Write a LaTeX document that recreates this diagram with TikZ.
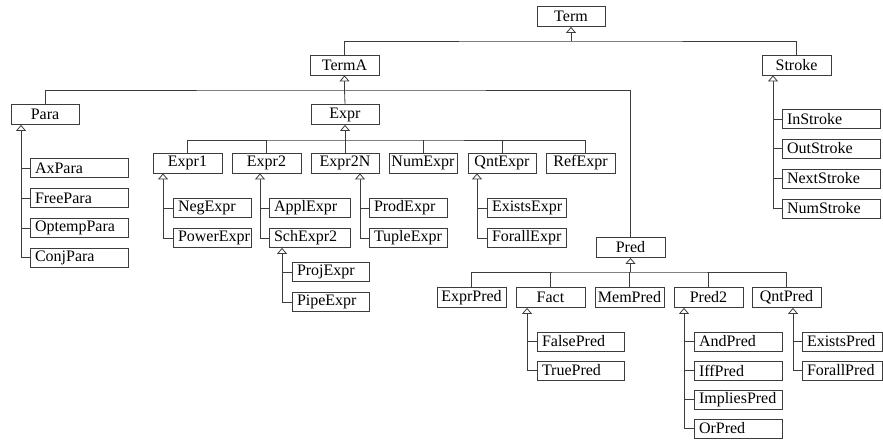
\documentclass[tikz,border=0pt]{standalone}
\usepackage{fontspec}
\setmainfont{Liberation Serif}
\usetikzlibrary{arrows.meta}
\definecolor{linec}{RGB}{60,60,60}
\begin{document}
\begin{tikzpicture}[x=1pt,y=-1pt,
  conn/.style={draw=linec, line width=0.8pt},
  inh/.style={conn, {Triangle[width=10pt,length=6pt,fill=white,line width=0.8pt]}-},
  pbox/.style={draw=linec, line width=0.8pt, fill=white, minimum height=20pt,
    inner sep=0pt, minimum width=#1, font=\fontsize{16}{19}\selectfont},
  cbox/.style={draw=linec, line width=0.8pt, fill=white, minimum height=19pt,
    inner ysep=0pt, inner xsep=5pt, text width=#1, align=left,
    font=\fontsize{16}{19}\selectfont}]
\useasboundingbox (0,0) rectangle (883,439);

% top levels
\node[pbox=68pt] (Term) at (571,16.5) {Term};
\node[pbox=69pt] (TermA) at (344.5,65) {TermA};
\node[pbox=69pt] (Stroke) at (796.5,65) {Stroke};
\node[pbox=68pt] (Para) at (45,114.5) {Para};
\node[pbox=68pt] (Expr) at (345,114.5) {Expr};
\node[pbox=69pt] (Expr1) at (187.5,163) {Expr1};
\node[pbox=69pt] (Expr2) at (266.5,163) {Expr2};
\node[pbox=68pt] (Expr2N) at (345,163) {Expr2N};
\node[pbox=68pt] (NumExpr) at (423,163) {NumExpr};
\node[pbox=68pt] (QntExpr) at (502,163) {QntExpr};
\node[pbox=69pt] (RefExpr) at (580.5,163) {RefExpr};
\node[pbox=69pt] (Pred) at (630.5,247.5) {Pred};
\node[pbox=69pt] (ExprPred) at (471.5,297.5) {ExprPred};
\node[pbox=69pt] (Fact) at (550.5,297.5) {Fact};
\node[pbox=69pt] (MemPred) at (629.5,297.5) {MemPred};
\node[pbox=69pt] (Pred2) at (708.5,297.5) {Pred2};
\node[pbox=69pt] (QntPred) at (786.5,297.5) {QntPred};

% children
\node[cbox=88pt] (AxPara) at (79,168) {AxPara};
\node[cbox=88pt] (FreePara) at (79,198) {FreePara};
\node[cbox=88pt] (OptempPara) at (79,228) {OptempPara};
\node[cbox=88pt] (ConjPara) at (79,257.5) {ConjPara};

\node[cbox=88pt] (InStroke) at (831,119) {InStroke};
\node[cbox=88pt] (OutStroke) at (831,148.5) {OutStroke};
\node[cbox=88pt] (NextStroke) at (831,178.5) {NextStroke};
\node[cbox=88pt] (NumStroke) at (831,208.5) {NumStroke};

\node[cbox=68pt] (NegExpr) at (212,208) {NegExpr};
\node[cbox=68pt] (PowerExpr) at (212,238) {PowerExpr};

\node[cbox=71pt] (ApplExpr) at (309.5,208) {ApplExpr};
\node[cbox=71pt] (SchExpr2) at (309.5,238) {SchExpr2};

\node[cbox=67pt] (ProjExpr) at (330.5,272) {ProjExpr};
\node[cbox=67pt] (PipeExpr) at (330.5,302) {PipeExpr};

\node[cbox=68pt] (ProdExpr) at (408,208) {ProdExpr};
\node[cbox=68pt] (TupleExpr) at (408,238) {TupleExpr};

\node[cbox=69pt] (ExistsExpr) at (526.5,208) {ExistsExpr};
\node[cbox=69pt] (ForallExpr) at (526.5,238) {ForallExpr};

\node[cbox=77pt] (FalsePred) at (580.5,341.5) {FalsePred};
\node[cbox=77pt] (TruePred) at (580.5,370.5) {TruePred};

\node[cbox=78pt] (AndPred) at (738,341.5) {AndPred};
\node[cbox=78pt] (IffPred) at (738,370.5) {IffPred};
\node[cbox=78pt] (ImpliesPred) at (738,399.5) {ImpliesPred};
\node[cbox=78pt] (OrPred) at (738,428.5) {OrPred};

\node[cbox=70pt] (ExistsPred) at (842,341.5) {ExistsPred};
\node[cbox=70pt] (ForallPred) at (842,370.5) {ForallPred};

% buses
\coordinate (b1) at (571,41);
\draw[conn] (TermA.north) |- (b1) -| (Stroke.north);
\draw[inh] (Term.south) -- (b1);

\coordinate (b2) at (344.5,90);
\draw[conn] (Para.north) |- (b2) -| (Pred.north);
\draw[inh] (TermA.south) -- (b2);
\draw[conn] (b2) -- (Expr.north);

\coordinate (b3) at (345,140);
\coordinate (rd) at (585,140);
\draw[inh] (Expr.south) -- (b3);
\draw[conn] (Expr1.north) |- (b3) -- (rd) -- (rd |- RefExpr.north);
\draw[conn] (Expr2.north) -- (Expr2.north |- b3);
\draw[conn] (Expr2N.north) -- (Expr2N.north |- b3);
\draw[conn] (NumExpr.north) -- (NumExpr.north |- b3);
\draw[conn] (QntExpr.north) -- (QntExpr.north |- b3);

\coordinate (b4) at (630.5,272);
\draw[inh] (Pred.south) -- (b4);
\draw[conn] (ExprPred.north) |- (b4) -| (QntPred.north);
\draw[conn] (Fact.north) -- (Fact.north |- b4);
\draw[conn] (MemPred.north) -- (MemPred.north |- b4);
\draw[conn] (Pred2.north) -- (Pred2.north |- b4);

% trunks
\coordinate (tPara) at (21,0);
\draw[inh] (Para.south -| tPara) |- (ConjPara.west);
\foreach \c in {AxPara,FreePara,OptempPara} \draw[conn] (\c.west) -- (\c.west -| tPara);

\coordinate (tStroke) at (773,0);
\draw[inh] (Stroke.south -| tStroke) |- (NumStroke.west);
\foreach \c in {InStroke,OutStroke,NextStroke} \draw[conn] (\c.west) -- (\c.west -| tStroke);

\coordinate (tExprA) at (163,0);
\draw[inh] (Expr1.south -| tExprA) |- (PowerExpr.west);
\draw[conn] (NegExpr.west) -- (NegExpr.west -| tExprA);

\coordinate (tExprB) at (260,0);
\draw[inh] (Expr2.south -| tExprB) |- (SchExpr2.west);
\draw[conn] (ApplExpr.west) -- (ApplExpr.west -| tExprB);

\coordinate (tSch) at (282,0);
\draw[inh] (SchExpr2.south -| tSch) |- (PipeExpr.west);
\draw[conn] (ProjExpr.west) -- (ProjExpr.west -| tSch);

\coordinate (tExprN) at (360,0);
\draw[inh] (Expr2N.south -| tExprN) |- (TupleExpr.west);
\draw[conn] (ProdExpr.west) -- (ProdExpr.west -| tExprN);

\coordinate (tQE) at (477,0);
\draw[inh] (QntExpr.south -| tQE) |- (ForallExpr.west);
\draw[conn] (ExistsExpr.west) -- (ExistsExpr.west -| tQE);

\coordinate (tFact) at (527,0);
\draw[inh] (Fact.south -| tFact) |- (TruePred.west);
\draw[conn] (FalsePred.west) -- (FalsePred.west -| tFact);

\coordinate (tPred2) at (684,0);
\draw[inh] (Pred2.south -| tPred2) |- (OrPred.west);
\foreach \c in {AndPred,IffPred,ImpliesPred} \draw[conn] (\c.west) -- (\c.west -| tPred2);

\coordinate (tQP) at (793,0);
\draw[inh] (QntPred.south -| tQP) |- (ForallPred.west);
\draw[conn] (ExistsPred.west) -- (ExistsPred.west -| tQP);
\end{tikzpicture}
\end{document}
